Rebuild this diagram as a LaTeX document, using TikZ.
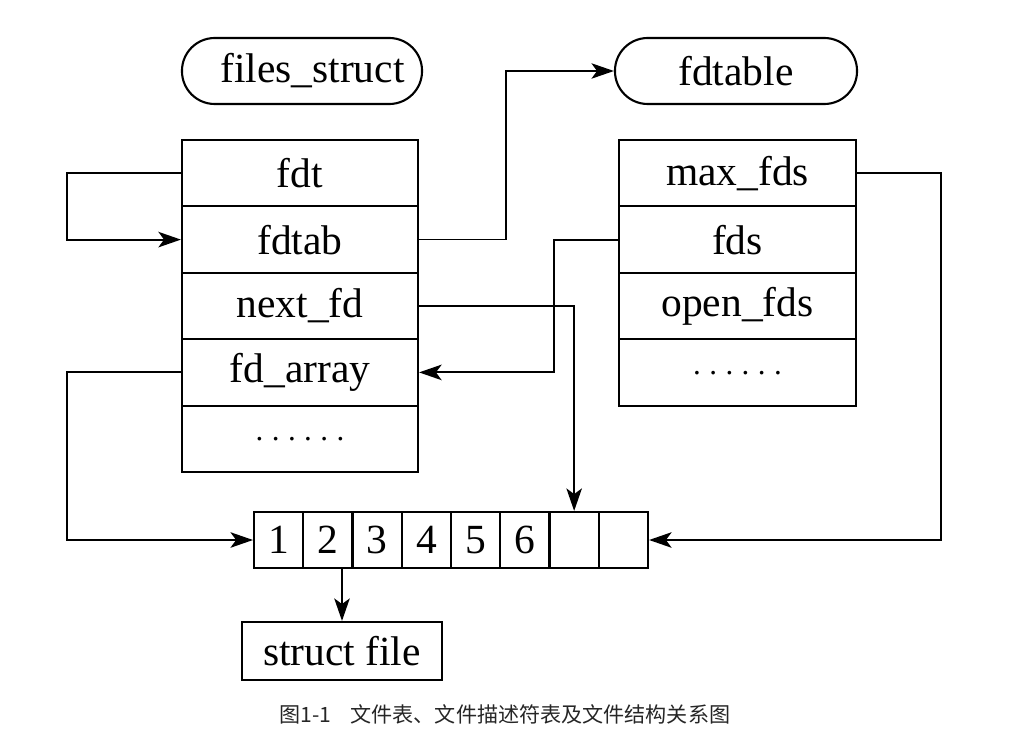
\documentclass[tikz,border=0pt]{standalone}
\usepackage{fontspec}
\setmainfont{Liberation Serif}
\newfontfamily\cjk{Noto Sans CJK SC}
\usetikzlibrary{arrows.meta}

\begin{document}
\begin{tikzpicture}[x = 0.025cm, y = -0.025cm, line width = 1.5pt,
                        >= {Stealth[length = 16pt, width = 11pt, inset = 4pt]},
                        every node/.style = {font = \fontsize{29.5}{32}\selectfont},
                        field/.style = {rectangle, draw, minimum height = 1.66cm, inner sep = 0pt},
                        oval/.style = {rectangle, draw, rounded corners = 0.82cm, minimum height = 1.65cm, inner sep = 0pt},
                        cell/.style = {rectangle, draw, minimum width = 1.23cm, minimum height = 1.4cm, inner sep = 0pt},
                        dots/.style = {font = \fontsize{22}{24}\selectfont}]
      \useasboundingbox (0, 0) rectangle (1011, 736);
      \node [oval, minimum width = 6cm] (s) at (302, 71) {\hspace{0.5em}files\_struct};
      \node [oval, minimum width = 6.05cm] (t) at (736, 71) {fdtable};
      \node [field, minimum width = 5.9cm] (f1) at (300, 173.2) {fdt};
      \node [field, minimum width = 5.9cm] (f2) at (300, 239.6) {fdtab};
      \node [field, minimum width = 5.9cm] (f3) at (300, 306) {next\_fd};
      \node [field, minimum width = 5.9cm] (f4) at (300, 372.4) {fd\_array};
      \node [field, dots, minimum width = 5.9cm] (f5) at (300, 438.8) {\raisebox{-0.3ex}{.\kern6pt.\kern6pt.\kern6pt.\kern6pt.\kern6pt.}};
      \node [field, minimum width = 5.925cm] (m1) at (737.5, 173.2) {max\_fds};
      \node [field, minimum width = 5.925cm] (m2) at (737.5, 239.6) {fds};
      \node [field, minimum width = 5.925cm] (m3) at (737.5, 306) {open\_fds};
      \node [field, dots, minimum width = 5.925cm] (m4) at (737.5, 372.4) {\raisebox{-0.3ex}{.\kern6pt.\kern6pt.\kern6pt.\kern6pt.\kern6pt.}};
      \foreach \i/\t in {1/1, 2/2, 3/3, 4/4, 5/5, 6/6, 7/, 8/}
        \node [cell] (c\i) at (254 + 49.25 * \i - 24.6, 540) {\t};
      \node [rectangle, draw, minimum width = 5cm, minimum height = 1.45cm] (sf) at (342, 651) {struct file};
      \node [font = \cjk\fontsize{15}{17}\selectfont, text = black!85] (cap) at (505, 714) {图1-1\hspace{0.9em}文件表、文件描述符表及文件结构关系图};
      \draw [->] (f1.west) -- ++(-114, 0) |- (f2.west);
      \draw [->, line width = 1pt] (f2.east) -- ++(87, 0) |- (t.west);
      \draw [->] (m2.west) -- ++(-64, 0) |- (f4.east);
      \draw [->] (f3.east) -| (c7.north);
      \draw [->] (f4.west) -- ++(-114, 0) |- (c1.west);
      \draw [->] (m1.east) -- ++(84, 0) |- (c8.east);
      \draw [->] (sf.north |- c2.south) -- (sf.north);
    \end{tikzpicture}
\end{document}
